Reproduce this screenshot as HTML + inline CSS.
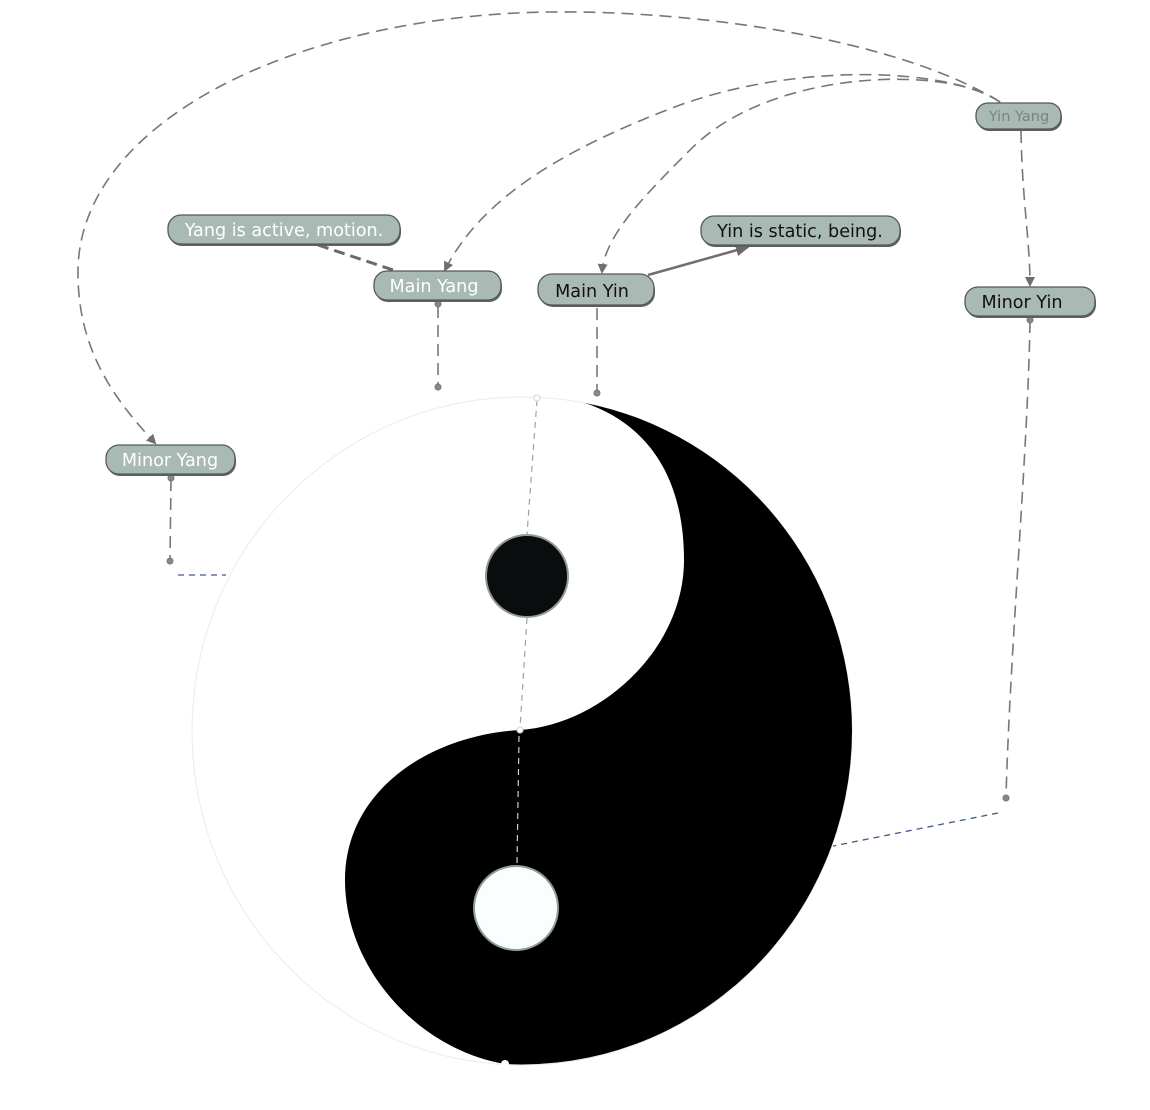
<!DOCTYPE html>
<html>
<head>
<meta charset="utf-8">
<style>
  html,body{margin:0;padding:0;background:#fff;}
  svg{display:block;}
  text{font-family:"DejaVu Sans","Liberation Sans",sans-serif;}
</style>
</head>
<body>
<svg width="1150" height="1110" viewBox="0 0 1150 1110" xmlns="http://www.w3.org/2000/svg">
  <defs>
    <marker id="arr" markerWidth="10" markerHeight="10" refX="8" refY="5" orient="auto" markerUnits="userSpaceOnUse">
      <path d="M0,0 L10,5 L0,10 z" fill="#6f6f6f"/>
    </marker>
    <marker id="arr2" markerWidth="14" markerHeight="12" refX="12" refY="6" orient="auto" markerUnits="userSpaceOnUse">
      <path d="M0,0 L14,6 L0,12 z" fill="#6a6a6a"/>
    </marker>
  </defs>

  <!-- Yin Yang symbol -->
  <ellipse cx="522" cy="731" rx="330" ry="334" fill="#fff" stroke="#e9ecec" stroke-width="1"/>
  <path d="M585,403 A330,334 0 0 1 852,731 A330,334 0 0 1 505,1064
           C420,1050 345,970 345,880 C345,790 430,735 520,730
           C600,725 684,650 684,560 C684,480 650,425 585,403 Z" fill="#000"/>
  <circle cx="527" cy="576" r="41" fill="#0a0c0d" stroke="#8e9e97" stroke-width="2"/>
  <circle cx="516" cy="908" r="42" fill="#fbfefe" stroke="#8e9e97" stroke-width="2"/>

  <!-- faint blue-gray dashed internal lines -->
  <path d="M537,400 L527,534" stroke="#8fa6b8" stroke-width="1.2" stroke-dasharray="6,5" fill="none"/>
  <path d="M527,618 L520,728" stroke="#8fa6b8" stroke-width="1.2" stroke-dasharray="6,5" fill="none"/>
  <path d="M519,736 L517,864" stroke="#c8d0d4" stroke-width="1.2" stroke-dasharray="6,5" fill="none"/>
  <circle cx="537" cy="398" r="3" fill="#fff" stroke="#cfd6d8" stroke-width="1"/>
  <circle cx="520" cy="730" r="3" fill="#fff" stroke="#cfd6d8" stroke-width="1"/>
  <circle cx="505" cy="1064" r="4" fill="#fff"/>

  <!-- blue dashed lines -->
  <path d="M178,575 L226,575" stroke="#3d5a8a" stroke-width="1.3" stroke-dasharray="6,5" fill="none"/>
  <path d="M998,813 L833,846" stroke="#3d5a8a" stroke-width="1.3" stroke-dasharray="6,5" fill="none"/>

  <!-- connectors -->
  <g fill="none" stroke="#777" stroke-width="1.6" stroke-dasharray="12,7">
    <path d="M1000,102 C900,40 700,10 550,12 C300,15 80,120 78,270 C77,350 115,400 155,443" marker-end="url(#arr)"/>
    <path d="M1000,102 C950,68 800,62 680,105 C560,150 480,200 445,270" marker-end="url(#arr)"/>
    <path d="M1000,102 C950,65 770,68 690,150 C645,195 605,235 602,272" marker-end="url(#arr)"/>
    <path d="M1021,131 C1022,200 1030,240 1030,285" marker-end="url(#arr)"/>
    <path d="M438,306 L438,386"/>
    <path d="M597,308 L597,392"/>
    <path d="M171,479 L170,560"/>
    <path d="M1030,321 C1028,450 1010,650 1006,797"/>
  </g>
  <path d="M318,245 L396,271" stroke="#6a6a6a" stroke-width="3" stroke-dasharray="11,6" fill="none"/>
  <path d="M648,275 L748,247" stroke="#6f6f6f" stroke-width="2.5" fill="none" marker-end="url(#arr2)"/>

  <!-- endpoint dots -->
  <g fill="#888" stroke="#777" stroke-width="1">
    <circle cx="438" cy="304" r="3"/>
    <circle cx="438" cy="387" r="3"/>
    <circle cx="597" cy="393" r="3"/>
    <circle cx="171" cy="478" r="3"/>
    <circle cx="170" cy="561" r="3"/>
    <circle cx="1030" cy="320" r="3"/>
    <circle cx="1006" cy="798" r="3"/>
  </g>

  <!-- nodes -->
  <g stroke="#555a57" stroke-width="1.3">
    <rect x="977" y="105" width="85" height="26" rx="12" fill="#5c615e" stroke="none"/>
    <rect x="976" y="103" width="85" height="26" rx="12" fill="#a9b9b3"/>

    <rect x="169" y="217" width="232" height="29" rx="13" fill="#5c615e" stroke="none"/>
    <rect x="168" y="215" width="232" height="29" rx="13" fill="#a9b9b3"/>

    <rect x="375" y="273" width="127" height="29" rx="13" fill="#5c615e" stroke="none"/>
    <rect x="374" y="271" width="127" height="29" rx="13" fill="#a9b9b3"/>

    <rect x="539" y="276" width="116" height="31" rx="14" fill="#5c615e" stroke="none"/>
    <rect x="538" y="274" width="116" height="31" rx="14" fill="#a9b9b3"/>

    <rect x="702" y="218" width="199" height="29" rx="13" fill="#5c615e" stroke="none"/>
    <rect x="701" y="216" width="199" height="29" rx="13" fill="#a9b9b3"/>

    <rect x="966" y="289" width="130" height="29" rx="13" fill="#5c615e" stroke="none"/>
    <rect x="965" y="287" width="130" height="29" rx="13" fill="#a9b9b3"/>

    <rect x="107" y="447" width="129" height="29" rx="13" fill="#5c615e" stroke="none"/>
    <rect x="106" y="445" width="129" height="29" rx="13" fill="#a9b9b3"/>
  </g>

  <g font-size="17.6">
    <text x="1019" y="121" font-size="14.5" fill="#7b837f" text-anchor="middle">Yin Yang</text>
    <text x="284" y="236" fill="#ffffff" text-anchor="middle">Yang is active, motion.</text>
    <text x="434" y="292" fill="#ffffff" text-anchor="middle">Main Yang</text>
    <text x="592" y="297" fill="#111" text-anchor="middle">Main Yin</text>
    <text x="800" y="237" fill="#111" text-anchor="middle">Yin is static, being.</text>
    <text x="1022" y="308" fill="#111" text-anchor="middle">Minor Yin</text>
    <text x="170" y="466" fill="#ffffff" text-anchor="middle">Minor Yang</text>
  </g>
</svg>
</body>
</html>
